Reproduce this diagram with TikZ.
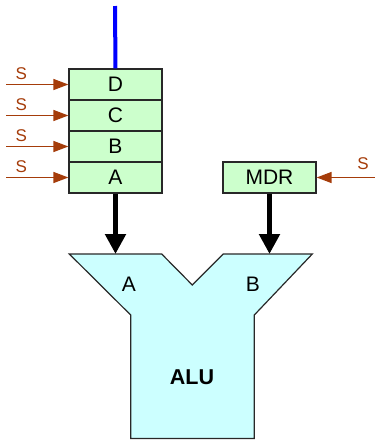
\documentclass[tikz,border=0pt]{standalone}
\usepackage{fontspec}
\setmainfont{Liberation Sans}
\usetikzlibrary{arrows.meta}
\definecolor{regfill}{RGB}{204,255,204}
\definecolor{alufill}{RGB}{204,255,255}
\definecolor{sig}{RGB}{165,60,10}
\definecolor{edge}{RGB}{40,40,40}
\begin{document}
\begin{tikzpicture}[x=1pt,y=-1pt,
  reg/.style={draw=edge,line width=1.2pt,fill=regfill,minimum width=93pt,minimum height=31pt,inner sep=0pt,font=\fontsize{21}{22}\selectfont},
  sarrow/.style={draw=sig,line width=1.3pt,-{Triangle[length=15pt,width=11pt]}},
  slabel/.style={text=sig,font=\fontsize{17}{18}\selectfont},
  bigarrow/.style={line width=5pt,-{Triangle[length=20pt,width=20pt]}}]
\useasboundingbox (0,0) rectangle (375,440);
% register stack
\node[reg] (D) at (115.5,84.5) {D};
\node[reg] (C) at (115.5,115.5) {C};
\node[reg] (B) at (115.5,146.5) {B};
\node[reg] (A) at (115.5,177.5) {A};
\node[reg] (MDR) at (269.5,177.5) {MDR};
% blue bus
\coordinate (top) at (115,6);
\draw[blue,line width=4pt] (top) -- (D.north);
% S control arrows
\foreach \r in {D,C,B,A}{
  \coordinate (s\r) at ([xshift=-62pt]\r.west);
  \draw[sarrow] (s\r) -- (\r.west);
  \node[slabel] at ([xshift=15pt,yshift=11pt]s\r) {S};
}
\coordinate (sM) at (375,177.5);
\draw[sarrow] (sM) -- (MDR.east);
\node[slabel] at (363,164) {S};
% ALU
\draw[draw=edge,line width=1.2pt,fill=alufill]
  (69.3,254) -- (161.7,254) -- (192.3,285) -- (223.3,254) -- (312.3,254)
  -- (254.3,315) -- (254.3,438.5) -- (130.7,438.5) -- (130.7,315) -- cycle;
\coordinate (inA) at (115.5,254);
\coordinate (inB) at (269.5,254);
\node[font=\fontsize{21}{22}\selectfont] (la) at (129,284) {A};
\node[font=\fontsize{21}{22}\selectfont] (lb) at (253,284) {B};
\node[font=\fontsize{21.5}{22}\selectfont\bfseries] (alu) at (192,377) {ALU};
% data arrows
\draw[bigarrow] (A.south) -- (inA);
\draw[bigarrow] (MDR.south) -- (inB);
\end{tikzpicture}
\end{document}
